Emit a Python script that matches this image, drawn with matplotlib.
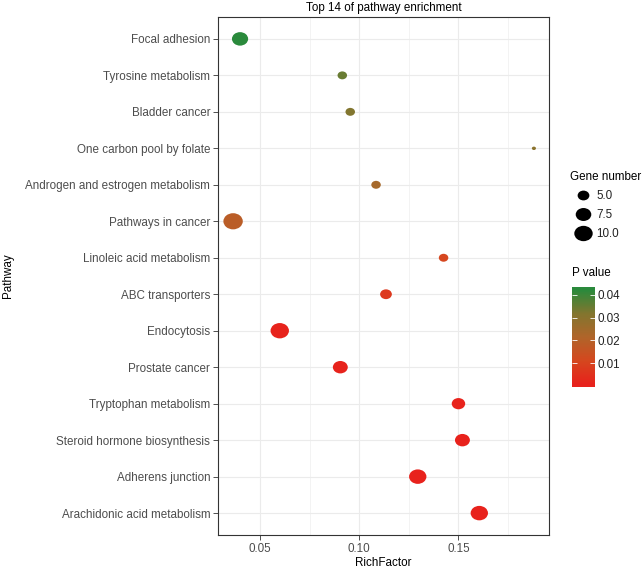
import numpy as np
import matplotlib
matplotlib.use("Agg")
import matplotlib.pyplot as plt
from matplotlib.colors import LinearSegmentedColormap, Normalize
from matplotlib.path import Path
from matplotlib.lines import Line2D

plt.rcParams['font.family'] = ['Liberation Sans', 'DejaVu Sans']

# datos (de arriba hacia abajo)
pathways = ["Focal adhesion", "Tyrosine metabolism", "Bladder cancer",
            "One carbon pool by folate", "Androgen and estrogen metabolism",
            "Pathways in cancer", "Linoleic acid metabolism", "ABC transporters",
            "Endocytosis", "Prostate cancer", "Tryptophan metabolism",
            "Steroid hormone biosynthesis", "Adherens junction",
            "Arachidonic acid metabolism"]
rich_factor = [0.040, 0.0915, 0.0955, 0.188, 0.1085, 0.0365, 0.1425, 0.1135,
               0.060, 0.0905, 0.150, 0.152, 0.1295, 0.1605]
gene_number = [8, 4, 4, 3, 4, 11, 4, 5, 10, 7, 6, 7, 9, 9]
p_value = [0.0425, 0.035, 0.032, 0.030, 0.024, 0.019, 0.011, 0.007,
           0.0012, 0.0012, 0.0010, 0.0009, 0.0009, 0.0008]

size_breaks = [5.0, 7.5, 10.0]
size_labels = ["5.0", "7.5", "10.0"]
p_breaks = [0.01, 0.02, 0.03, 0.04]
p_labels = ["0.01", "0.02", "0.03", "0.04"]

FS = 8.4

# colores tipo ggplot (rojo -> verde)
cmap = LinearSegmentedColormap.from_list("rg", [
    (0.0, "#E8221C"), (0.25, "#D5481F"), (0.5, "#B0652A"),
    (0.75, "#82762F"), (1.0, "#2A8A3C")])
p_lo, p_hi = min(p_value), max(p_value)
norm = Normalize(p_lo, p_hi)

# marcador ovalado (la imagen original esta algo estirada)
circ = Path.unit_circle()
oval = Path(circ.vertices * np.array([1.2, 1.0]), circ.codes)

g_lo, g_hi = min(gene_number), max(gene_number)


def diam_pt(g):
    d_px = 4.1 + 15.3 * np.sqrt((np.asarray(g, float) - g_lo) / (g_hi - g_lo))
    return d_px * 72 / 100


fig = plt.figure(figsize=(6.43, 5.69), dpi=100)
ax = fig.add_axes([218 / 643, 1 - 535 / 569, 331 / 643, 518 / 569])

y = np.arange(len(pathways))
ax.scatter(rich_factor, y, s=diam_pt(gene_number) ** 2, c=p_value, cmap=cmap,
           norm=norm, marker=oval, linewidths=0, zorder=3)

ax.set_ylim(len(pathways) - 0.4, -0.6)
ax.set_xlim(0.0289, 0.1956)
ax.set_yticks(y)
ax.set_yticklabels(pathways)
ax.set_xticks([0.05, 0.10, 0.15])
ax.set_xticklabels(["0.05", "0.10", "0.15"])
ax.set_xticks([0.075, 0.125, 0.175], minor=True)
ax.tick_params(axis="both", which="major", length=3.5, width=0.6, color="#333333",
               labelsize=FS, labelcolor="#4D4D4D", pad=2)
ax.tick_params(axis="x", which="minor", length=0)
ax.grid(True, which="major", color="#EBEBEB", linewidth=0.8, zorder=0)
ax.grid(True, which="minor", axis="x", color="#EBEBEB", linewidth=0.4, zorder=0)
ax.set_axisbelow(True)
for sp in ax.spines.values():
    sp.set_color("#333333")
    sp.set_linewidth(0.8)

ax.set_title("Top 14 of pathway enrichment", fontsize=FS, pad=4)
ax.set_xlabel("RichFactor", fontsize=FS, labelpad=1.5)
ax.set_ylabel("Pathway", fontsize=FS)
ax.yaxis.set_label_coords((14 - 218) / 331, 0.5)

# leyenda de tamaños
handles = [Line2D([], [], linestyle="none", marker=oval, markersize=diam_pt(b),
                  markerfacecolor="black", markeredgewidth=0) for b in size_breaks]
leg = fig.legend(handles, size_labels, title="Gene number", loc="upper left",
                 bbox_to_anchor=(565 / 643, 1 - 166 / 569), frameon=False,
                 fontsize=FS, title_fontsize=FS, alignment="left",
                 handletextpad=0.1, labelspacing=0.6, handlelength=2.2,
                 borderaxespad=0)
for t in leg.get_texts():
    t.set_color("#222222")

# barra de color
cax = fig.add_axes([572 / 643, 1 - 386.7 / 569, 23 / 643, 100 / 569])
marg = (p_hi - p_lo) / 38
grad = np.linspace(p_lo - marg, p_hi + marg, 256).reshape(-1, 1)
cax.imshow(grad, aspect="auto", origin="lower", cmap=cmap, norm=norm,
           extent=[0, 1, p_lo - marg, p_hi + marg])
cax.set_xticks([])
cax.set_yticks(p_breaks)
cax.set_yticklabels(p_labels)
cax.tick_params(axis="y", left=True, right=True, labelleft=False, labelright=True,
                direction="in", color="white", length=3.3, width=0.6,
                labelsize=FS, labelcolor="#222222", pad=2)
for sp in cax.spines.values():
    sp.set_visible(False)
fig.text(572 / 643, 1 - 273 / 569, "P value", fontsize=FS, va="center", ha="left")

fig.savefig("out.png", dpi=100)
